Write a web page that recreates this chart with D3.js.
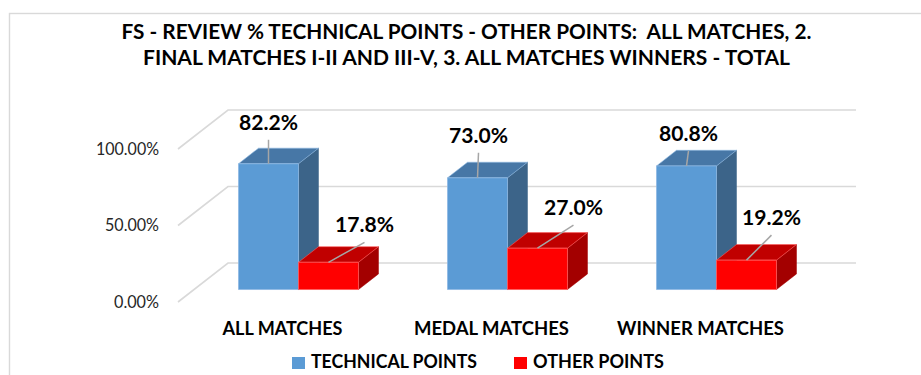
<!DOCTYPE html>
<html>
<head>
<meta charset="utf-8">
<script src="https://cdn.jsdelivr.net/npm/d3@7"></script>
<style>
  html, body { margin: 0; padding: 0; background: #fff; }
  svg { display: block; }
  text { font-family: Lato, "Open Sans", "DejaVu Sans", sans-serif; }
  .title { white-space: pre; }
</style>
</head>
<body>
<svg id="chart" width="921" height="375"></svg>
<script>
// ---- data ----
const categories = ["ALL MATCHES", "MEDAL MATCHES", "WINNER MATCHES"];
const seriesNames = ["TECHNICAL POINTS", "OTHER POINTS"];
const technicalPoints = [82.2, 73.0, 80.8];
const otherPoints = [17.8, 27.0, 19.2];
const yTickValues = [0, 50, 100];
const titleLines = [
  "FS - REVIEW % TECHNICAL POINTS - OTHER POINTS:  ALL MATCHES, 2.",
  "FINAL MATCHES I-II AND III-V, 3. ALL MATCHES WINNERS - TOTAL"
];

// ---- styling / layout ----
const seriesValues = [technicalPoints, otherPoints];
const faceColors = [
  { front: "#5B9BD5", top: "#4777A6", side: "#3C6489", edge: "#8DB8E2" },
  { front: "#FF0000", top: "#C00000", side: "#A30000", edge: "#FF5A5A" }
];
// label placement relative to the top-front centre of each bar [dx, dy]
const labelNudge = [
  [[0, -34], [1, -35], [2, -25]],
  [[36, -30], [36, -33], [25, -35]]
];

const svg = d3.select("#chart");
const gridColor = "#D9D9D9";

// chart frame
svg.append("rect")
  .attr("x", 9.5).attr("y", 13.5)
  .attr("width", 940).attr("height", 400)
  .attr("fill", "#fff").attr("stroke", gridColor).attr("stroke-width", 1.4);

// front plane of the 3D plot
const plotLeft = 178, plotRight = 805;
const depthDX = 50, depthDY = -39;          // full wall depth offset
const barZFront = 0.32, barZBack = 0.72;    // bar depth within the wall

const x0 = d3.scaleBand().domain(categories)
  .range([plotLeft, plotRight])
  .paddingInner(0.426).paddingOuter(0.213);
const x1 = d3.scaleBand().domain(seriesNames).range([0, x0.bandwidth()]);
const y = d3.scaleLinear().domain([0, 100]).range([302, 149]);

const proj = (px, py, z) => [px + z * depthDX, py + z * depthDY];

// ---- gridlines: side wall diagonals + back wall horizontals ----
const grid = svg.append("g").attr("stroke", gridColor).attr("stroke-width", 1.6).attr("fill", "none");
yTickValues.forEach(t => {
  const a = proj(plotLeft, y(t), 0), b = proj(plotLeft, y(t), 1), c = proj(plotRight + 1, y(t), 1);
  grid.append("path").attr("d", d3.line()([a, b, c]));
});

// ---- y axis labels ----
const fmt = d3.format(".2%");
const tickWidths = { 0: 45, 50: 54, 100: 63 };
svg.append("g").selectAll("text").data(yTickValues).join("text")
  .attr("x", plotLeft - 19).attr("y", d => y(d))
  .attr("dy", "0.36em")
  .attr("text-anchor", "end")
  .attr("font-size", 16.5).attr("fill", "#262626")
  .attr("textLength", d => tickWidths[d]).attr("lengthAdjust", "spacingAndGlyphs")
  .text(d => fmt(d / 100));

// ---- 3D bars ----
const bars = svg.append("g");
categories.forEach((cat, ci) => {
  seriesNames.forEach((s, si) => {
    const v = seriesValues[si][ci];
    const c = faceColors[si];
    const xl = x0(cat) + x1(s), xr = xl + x1.bandwidth();
    const yt = y(v), yb = y(0);
    const fTL = proj(xl, yt, barZFront), fTR = proj(xr, yt, barZFront);
    const fBR = proj(xr, yb, barZFront), fBL = proj(xl, yb, barZFront);
    const bTL = proj(xl, yt, barZBack), bTR = proj(xr, yt, barZBack);
    const bBR = proj(xr, yb, barZBack);
    const poly = pts => "M" + pts.map(p => p.join(",")).join("L") + "Z";
    bars.append("path").attr("d", poly([fTR, bTR, bBR, fBR])).attr("fill", c.side)
      .attr("stroke", c.side).attr("stroke-width", 0.5);
    bars.append("path").attr("d", poly([fTL, fTR, bTR, bTL])).attr("fill", c.top)
      .attr("stroke", c.edge).attr("stroke-width", 0.6);
    bars.append("path").attr("d", poly([fTL, fTR, fBR, fBL])).attr("fill", c.front)
      .attr("stroke", c.edge).attr("stroke-width", 0.8);
  });
});

// ---- data labels with leader lines ----
const labels = svg.append("g");
categories.forEach((cat, ci) => {
  seriesNames.forEach((s, si) => {
    const v = seriesValues[si][ci];
    const xl = x0(cat) + x1(s);
    const [cx, ty] = proj(xl + x1.bandwidth() / 2, y(v), barZFront);
    const [dx, dy] = labelNudge[si][ci];
    const lx = cx + dx, ly = ty + dy;
    labels.append("line")
      .attr("x1", lx).attr("y1", ly + 10).attr("x2", cx).attr("y2", ty)
      .attr("stroke", "#A6A6A6").attr("stroke-width", 1.5);
    labels.append("text")
      .attr("x", lx).attr("y", ly)
      .attr("text-anchor", "middle")
      .attr("font-size", 21).attr("font-weight", "bold").attr("fill", "#000")
      .attr("textLength", 59).attr("lengthAdjust", "spacingAndGlyphs")
      .text(d3.format(".1f")(v) + "%");
  });
});

// ---- category labels (front plane) ----
const catWidths = { "ALL MATCHES": 120, "MEDAL MATCHES": 155, "WINNER MATCHES": 167 };
svg.append("g").selectAll("text").data(categories).join("text")
  .attr("x", d => x0(d) + x0.bandwidth() / 2)
  .attr("y", 335)
  .attr("text-anchor", "middle")
  .attr("font-size", 18.5).attr("font-weight", "bold").attr("fill", "#000")
  .attr("textLength", d => catWidths[d]).attr("lengthAdjust", "spacingAndGlyphs")
  .text(d => d);

// ---- title ----
const titleWidths = [690, 647];
svg.append("g").selectAll("text").data(titleLines).join("text")
  .attr("class", "title")
  .attr("x", 466.5)
  .attr("y", (d, i) => 39 + i * 26)
  .attr("text-anchor", "middle")
  .attr("font-size", 20).attr("font-weight", "bold").attr("fill", "#000")
  .attr("textLength", (d, i) => titleWidths[i]).attr("lengthAdjust", "spacingAndGlyphs")
  .text(d => d);

// ---- legend ----
const legendItems = [
  { name: seriesNames[0], color: faceColors[0].front, x: 292, w: 166 },
  { name: seriesNames[1], color: faceColors[1].front, x: 514, w: 131 }
];
const leg = svg.append("g");
legendItems.forEach(it => {
  leg.append("rect").attr("x", it.x).attr("y", 357).attr("width", 13).attr("height", 12)
    .attr("fill", it.color);
  leg.append("text").attr("x", it.x + 19).attr("y", 368)
    .attr("font-size", 19).attr("font-weight", "bold").attr("fill", "#000")
    .attr("textLength", it.w).attr("lengthAdjust", "spacingAndGlyphs")
    .text(it.name);
});
</script>
</body>
</html>
